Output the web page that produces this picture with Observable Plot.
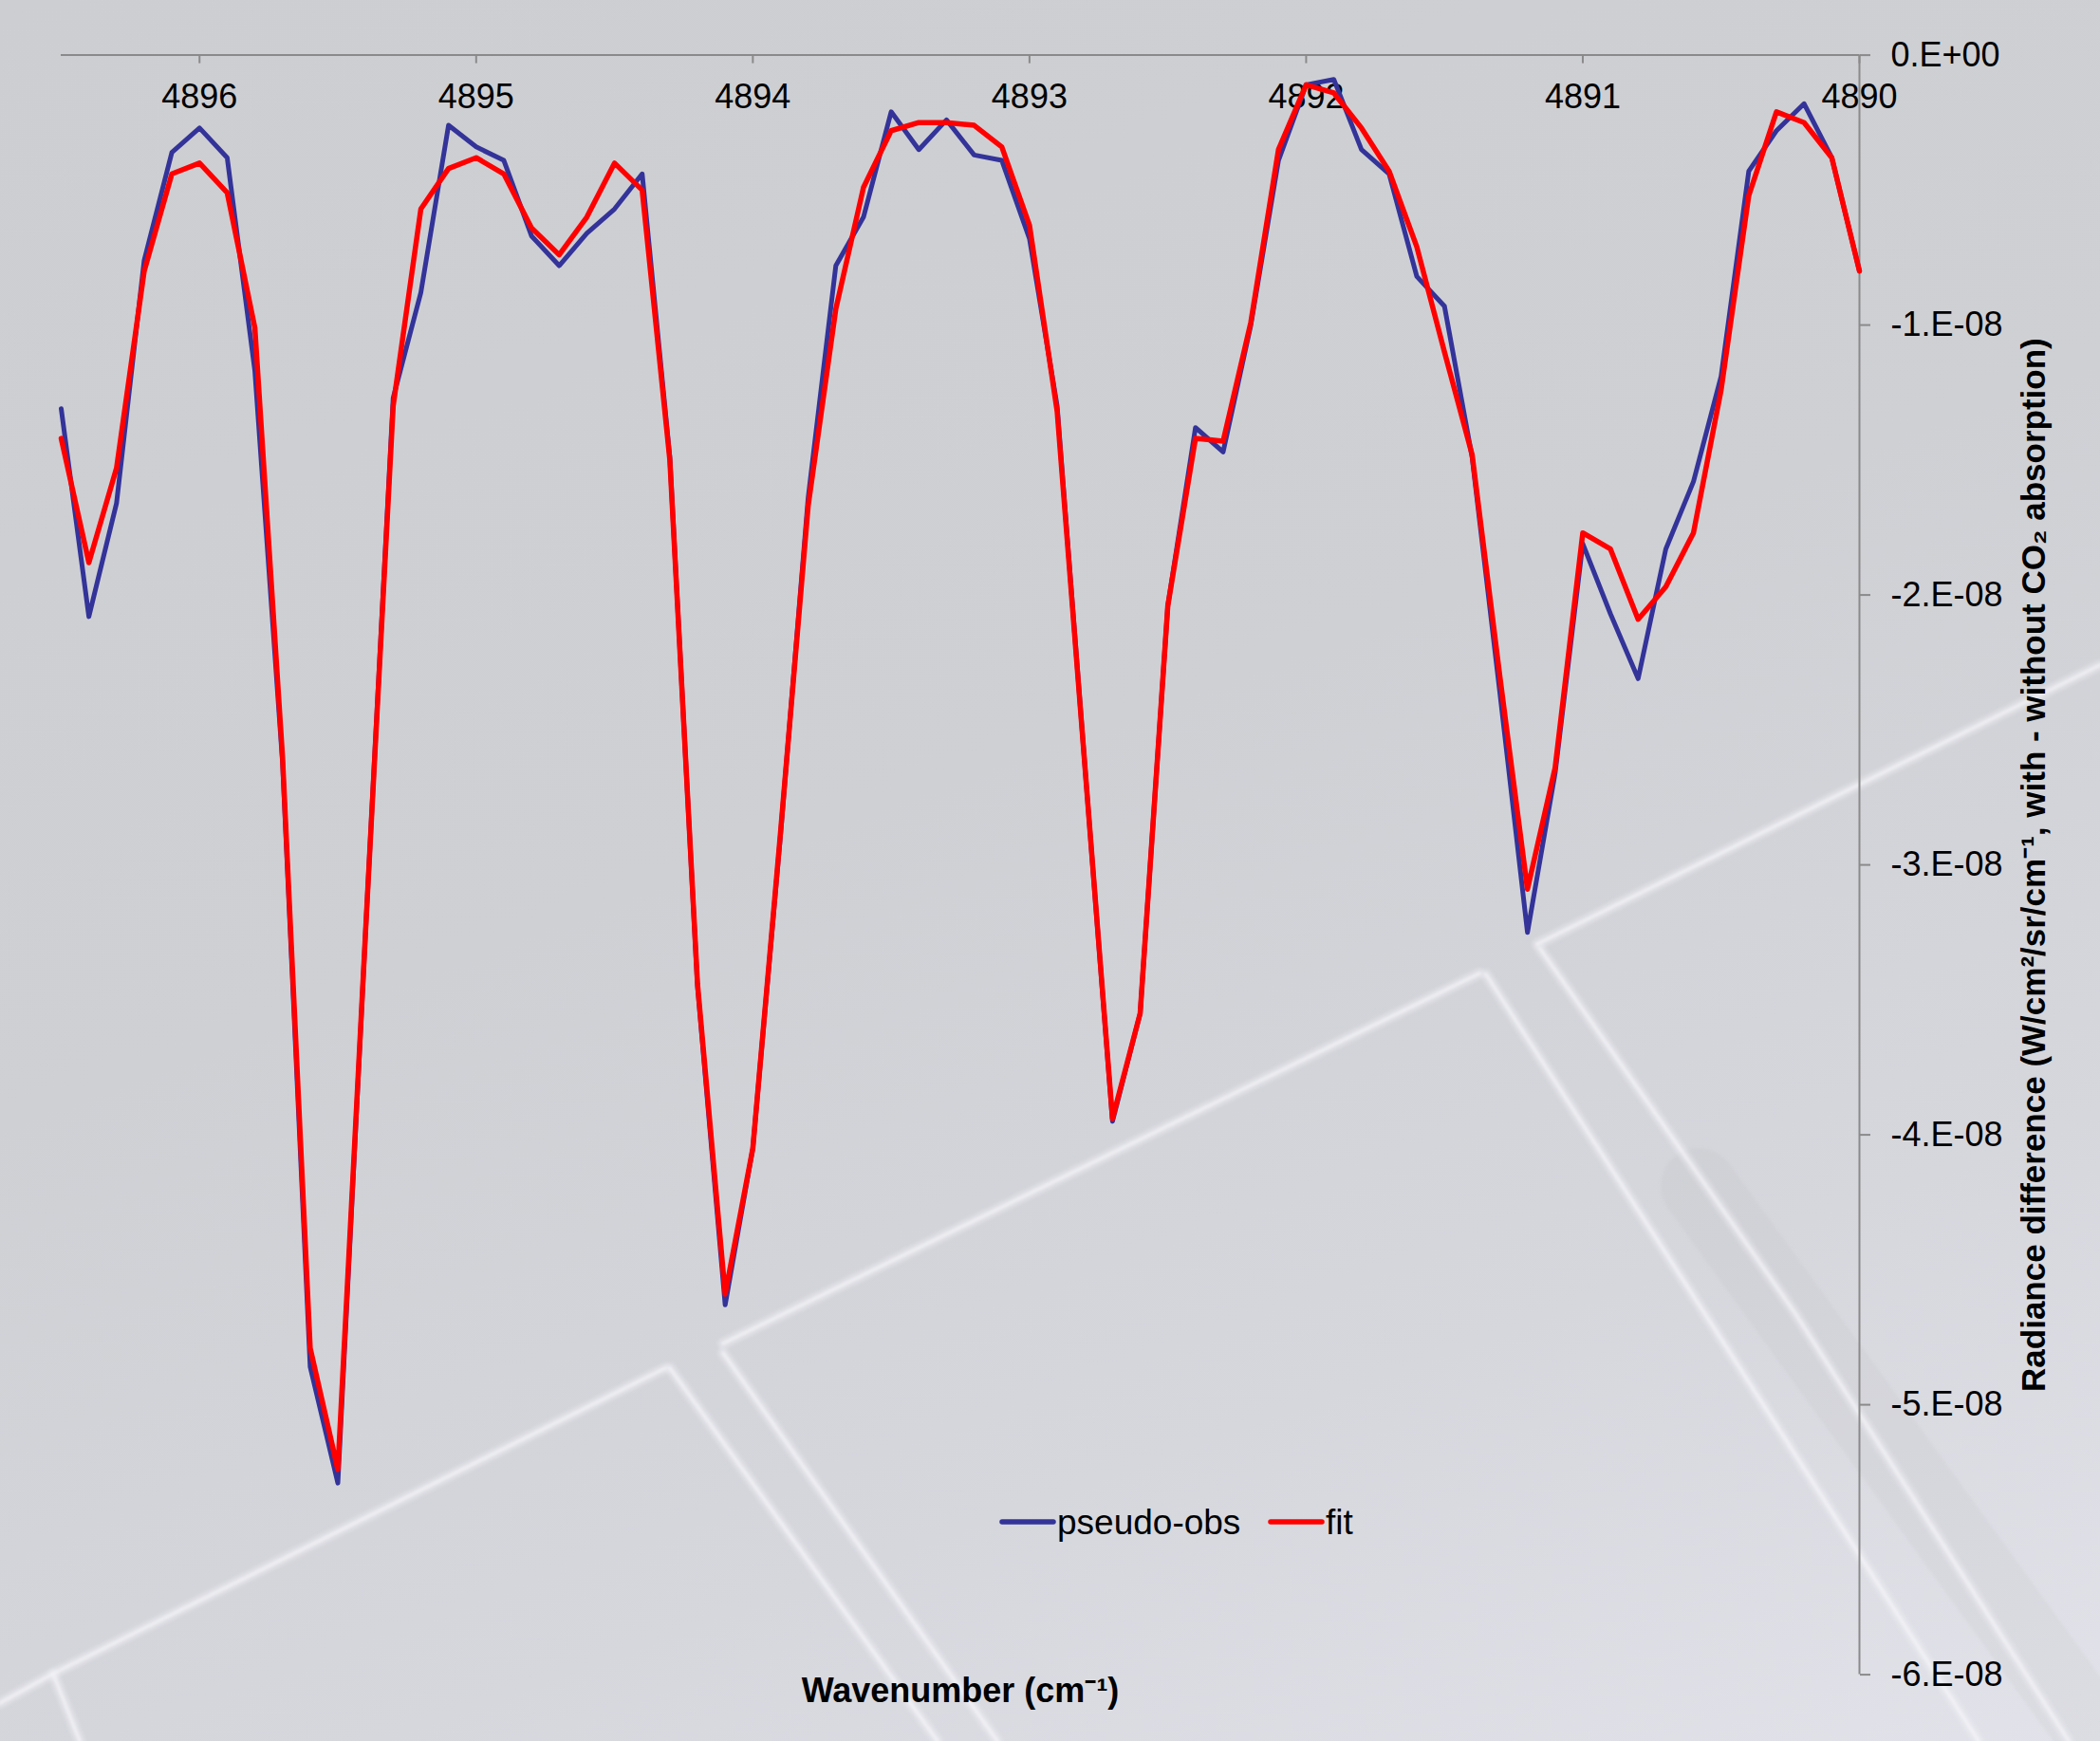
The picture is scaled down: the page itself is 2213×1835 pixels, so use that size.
<!DOCTYPE html>
<html>
<head>
<meta charset="utf-8">
<script src="https://cdn.jsdelivr.net/npm/d3@7"></script>
<script src="https://cdn.jsdelivr.net/npm/@observablehq/plot@0.6"></script>
<style>
  html, body { margin: 0; padding: 0; }
  #wrap {
    position: relative; width: 2213px; height: 1835px; overflow: hidden;
    background: linear-gradient(160deg, #cdced2 0%, #cfd0d4 45%, #d6d7dd 75%, #e2e3ea 100%);
    font-family: "Liberation Sans", Arial, sans-serif;
  }
  #deco, #chart { position: absolute; left: 0; top: 0; }
</style>
</head>
<body>
<div id="wrap">
  <svg id="deco" width="2213" height="1835"></svg>
  <div id="chart"></div>
</div>
<script>
// ---- data (values in W/cm2/sr/cm-1) ----
const wavenumbers = [
  4896.5, 4896.4, 4896.3, 4896.2, 4896.1, 4896.0, 4895.9, 4895.8, 4895.7, 4895.6,
  4895.5, 4895.4, 4895.3, 4895.2, 4895.1, 4895.0, 4894.9, 4894.8, 4894.7, 4894.6,
  4894.5, 4894.4, 4894.3, 4894.2, 4894.1, 4894.0, 4893.9, 4893.8, 4893.7, 4893.6,
  4893.5, 4893.4, 4893.3, 4893.2, 4893.1, 4893.0, 4892.9, 4892.8, 4892.7, 4892.6,
  4892.5, 4892.4, 4892.3, 4892.2, 4892.1, 4892.0, 4891.9, 4891.8, 4891.7, 4891.6,
  4891.5, 4891.4, 4891.3, 4891.2, 4891.1, 4891.0, 4890.9, 4890.8, 4890.7, 4890.6,
  4890.5, 4890.4, 4890.3, 4890.2, 4890.1, 4890.0
];
const pseudoObs = [
  -1.31e-8, -2.08e-8, -1.66e-8, -0.76e-8, -0.36e-8, -0.27e-8, -0.38e-8, -1.17e-8, -2.62e-8, -4.86e-8,
  -5.29e-8, -3.25e-8, -1.27e-8, -0.88e-8, -0.26e-8, -0.34e-8, -0.39e-8, -0.67e-8, -0.78e-8, -0.66e-8,
  -0.57e-8, -0.44e-8, -1.49e-8, -3.45e-8, -4.63e-8, -4.05e-8, -2.89e-8, -1.64e-8, -0.78e-8, -0.60e-8,
  -0.21e-8, -0.35e-8, -0.24e-8, -0.37e-8, -0.39e-8, -0.68e-8, -1.30e-8, -2.63e-8, -3.95e-8, -3.55e-8,
  -2.04e-8, -1.38e-8, -1.47e-8, -1.00e-8, -0.39e-8, -0.11e-8, -0.09e-8, -0.35e-8, -0.44e-8, -0.82e-8,
  -0.93e-8, -1.49e-8, -2.36e-8, -3.25e-8, -2.66e-8, -1.81e-8, -2.07e-8, -2.31e-8, -1.83e-8, -1.58e-8,
  -1.19e-8, -0.43e-8, -0.28e-8, -0.18e-8, -0.38e-8, -0.80e-8
];
const fit = [
  -1.42e-8, -1.88e-8, -1.53e-8, -0.80e-8, -0.44e-8, -0.40e-8, -0.51e-8, -1.01e-8, -2.60e-8, -4.79e-8,
  -5.24e-8, -3.25e-8, -1.30e-8, -0.57e-8, -0.42e-8, -0.38e-8, -0.44e-8, -0.64e-8, -0.74e-8, -0.60e-8,
  -0.40e-8, -0.50e-8, -1.50e-8, -3.44e-8, -4.59e-8, -4.05e-8, -2.88e-8, -1.67e-8, -0.94e-8, -0.49e-8,
  -0.28e-8, -0.25e-8, -0.25e-8, -0.26e-8, -0.34e-8, -0.63e-8, -1.32e-8, -2.63e-8, -3.94e-8, -3.55e-8,
  -2.04e-8, -1.42e-8, -1.43e-8, -0.99e-8, -0.35e-8, -0.11e-8, -0.14e-8, -0.27e-8, -0.43e-8, -0.71e-8,
  -1.10e-8, -1.48e-8, -2.30e-8, -3.09e-8, -2.64e-8, -1.77e-8, -1.83e-8, -2.09e-8, -1.97e-8, -1.77e-8,
  -1.24e-8, -0.52e-8, -0.21e-8, -0.25e-8, -0.38e-8, -0.80e-8
];
const xTicks = [4896, 4895, 4894, 4893, 4892, 4891, 4890];
const yTicks = [0, -1e-8, -2e-8, -3e-8, -4e-8, -5e-8, -6e-8];
const seriesNames = ["pseudo-obs", "fit"];
const seriesColors = ["#333399", "#ff0000"];
const xTitle = "Wavenumber (cm\u207B\u00B9)";
const yTitle = "Radiance difference (W/cm\u00B2/sr/cm\u207B\u00B9, with - without CO\u2082 absorption)";

// ---- decorative background (photo-like panel edges) ----
const deco = d3.select("#deco");
deco.append("defs").append("filter").attr("id", "soft")
  .append("feGaussianBlur").attr("stdDeviation", 1.6);
const glow = deco.append("g").attr("fill", "none").attr("stroke-linecap", "round").attr("filter", "url(#soft)");
const bgLines = [
  [[0, 1795], [56, 1764], [701, 1442]],
  [[706, 1442], [988, 1835]],
  [[762, 1426], [1051, 1835]],
  [[762, 1416], [1559, 1026]],
  [[1566, 1027], [1820, 1421], [2085, 1835]],
  [[1623, 1000], [1891, 1383], [2180, 1835]],
  [[1620, 995], [2213, 701]],
  [[56, 1764], [84, 1835]]
];
glow.append("path").attr("d", "M1790,1250 L2213,1835").attr("stroke", "rgba(175,175,170,0.12)").attr("stroke-width", 80);
for (const pts of bgLines) {
  glow.append("path").attr("d", d3.line()(pts)).attr("stroke", "rgba(238,239,244,0.35)").attr("stroke-width", 12);
  glow.append("path").attr("d", d3.line()(pts)).attr("stroke", "rgba(244,244,248,0.75)").attr("stroke-width", 4);
}

// ---- chart ----
const rows = (vals, name) => wavenumbers.map((w, i) => ({w, v: vals[i], s: name}));
const obsRows = rows(pseudoObs, seriesNames[0]);
const fitRows = rows(fit, seriesNames[1]);
const axisGray = "#8a8a8a";
const yFmt = d => d === 0 ? "0.E+00" : `${Math.round(d * 1e8)}.E-08`;

const chart = Plot.plot({
  width: 2213,
  height: 1835,
  marginTop: 57.6,
  marginRight: 254,
  marginBottom: 70.4,
  marginLeft: 64,
  style: {background: "transparent", color: "#000", fontFamily: "'Liberation Sans', Arial, sans-serif", fontSize: "36px", overflow: "visible"},
  x: {domain: [4896.5, 4890], axis: null},
  y: {domain: [-6e-8, 0], axis: null},
  marks: [
    Plot.ruleY([0], {stroke: axisGray, strokeWidth: 2}),
    Plot.ruleX([4890], {stroke: axisGray, strokeWidth: 2}),
    Plot.axisX(xTicks, {anchor: "bottom", frameAnchor: "top", tickSize: 9, tickPadding: 21, stroke: axisGray, strokeWidth: 2, fill: "#000", tickFormat: d => String(d), label: null}),
    Plot.axisY(yTicks, {anchor: "right", tickSize: 11, tickPadding: 22, stroke: axisGray, strokeWidth: 2, fill: "#000", tickFormat: yFmt, label: null}),
    Plot.line(obsRows, {x: "w", y: "v", stroke: seriesColors[0], strokeWidth: 5, strokeLinejoin: "round"}),
    Plot.line(fitRows, {x: "w", y: "v", stroke: seriesColors[1], strokeWidth: 5.5, strokeLinejoin: "round"}),
    Plot.text([xTitle], {text: d => d, frameAnchor: "bottom", dy: 17, lineAnchor: "middle", textAnchor: "middle", fontWeight: "bold", fontSize: 36, fill: "#000"}),
    Plot.text([yTitle], {text: d => d, frameAnchor: "right", dx: 184, rotate: -90, lineAnchor: "middle", textAnchor: "middle", fontWeight: "bold", fontSize: 35, fill: "#000"})
  ]
});
document.getElementById("chart").appendChild(chart);

// ---- legend (inside the plot area, like the original) ----
const svg = d3.select(chart);
const leg = svg.append("g").attr("font-size", 37).attr("fill", "#000").attr("text-anchor", "start");
const legendItems = [
  {x0: 1056, x1: 1110, tx: 1114},
  {x0: 1339, x1: 1393, tx: 1397}
];
seriesNames.forEach((name, i) => {
  const it = legendItems[i];
  leg.append("line").attr("x1", it.x0).attr("x2", it.x1).attr("y1", 1604).attr("y2", 1604)
    .attr("stroke", seriesColors[i]).attr("stroke-width", 5.5).attr("stroke-linecap", "round");
  leg.append("text").attr("x", it.tx).attr("y", 1617).attr("text-anchor", "start").text(name);
});
</script>
</body>
</html>
